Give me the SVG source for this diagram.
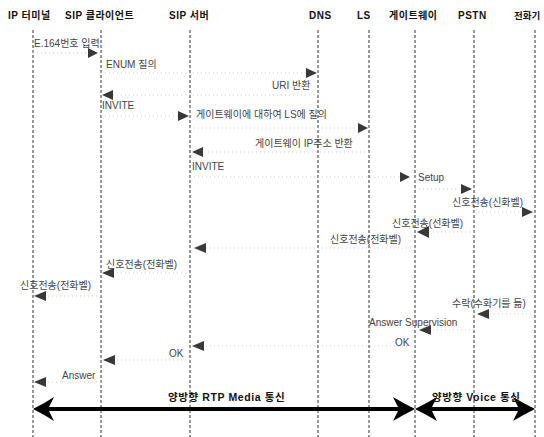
<svg xmlns="http://www.w3.org/2000/svg" width="544" height="437" viewBox="0 0 544 437">
<style>
.hdr{font-family:"Liberation Sans","Noto Sans CJK KR",sans-serif;font-size:10px;font-weight:bold;fill:#111;letter-spacing:0.5px}
.lbl{font-family:"Liberation Sans","Noto Sans CJK KR",sans-serif;font-size:10px;fill:#444}
.big{font-family:"Liberation Sans","Noto Sans CJK KR",sans-serif;font-size:10.5px;font-weight:bold;fill:#111;letter-spacing:0.6px}
.life{stroke:#333;stroke-width:1;stroke-dasharray:3 2;fill:none}
.msg{stroke:#cfcfcf;stroke-width:1;stroke-dasharray:1 3;fill:none}
.ah{fill:#383838}
.bigline{stroke:#000;stroke-width:4;fill:none}
.bighead{fill:#000}
</style>
<rect width="544" height="437" fill="#fff"/>
<g id="n-ipterm"><text class="hdr" x="8" y="19">IP 터미널</text><line class="life" x1="33" y1="30" x2="33" y2="437"/></g>
<g id="n-sipclient"><text class="hdr" x="65" y="19">SIP 클라이언트</text><line class="life" x1="101" y1="30" x2="101" y2="437"/></g>
<g id="n-sipserver"><text class="hdr" x="169" y="19">SIP 서버</text><line class="life" x1="190" y1="30" x2="190" y2="437"/></g>
<g id="n-dns"><text class="hdr" x="309" y="19">DNS</text><line class="life" x1="318" y1="30" x2="318" y2="437"/></g>
<g id="n-ls"><text class="hdr" x="357" y="19">LS</text><line class="life" x1="369" y1="30" x2="369" y2="437"/></g>
<g id="n-gateway"><text class="hdr" x="389" y="19">게이트웨이</text><line class="life" x1="415" y1="30" x2="415" y2="437"/></g>
<g id="n-pstn"><text class="hdr" x="458" y="19">PSTN</text><line class="life" x1="474" y1="30" x2="474" y2="437"/></g>
<g id="n-phone"><text class="hdr" x="514" y="19" style="letter-spacing:0;font-size:9.5px">전화기</text><line class="life" x1="535" y1="30" x2="535" y2="437"/></g>
<g id="connectors">
<line class="msg" x1="33" y1="53" x2="89" y2="53"/><path class="ah" d="M98,53 L88,48 L88,58 Z"/>
<text class="lbl" x="34" y="47">E.164번호 입력</text>
<line class="msg" x1="101" y1="73" x2="307" y2="73"/><path class="ah" d="M317,73 L306,68 L306,78 Z"/>
<text class="lbl" x="106" y="68">ENUM 질의</text>
<line class="msg" x1="318" y1="95" x2="112" y2="95"/><path class="ah" d="M102,95 L113,90 L113,100 Z"/>
<text class="lbl" x="272" y="89">URI 반환</text>
<line class="msg" x1="101" y1="116" x2="179" y2="116"/><path class="ah" d="M189,116 L178,111 L178,121 Z"/>
<text class="lbl" x="102" y="109">INVITE</text>
<line class="msg" x1="190" y1="128" x2="359" y2="128"/><path class="ah" d="M368,128 L358,123 L358,133 Z"/>
<text class="lbl" x="196" y="118">게이트웨이에 대하여 LS에 질의</text>
<line class="msg" x1="369" y1="152" x2="202" y2="152"/><path class="ah" d="M192,152 L203,147 L203,157 Z"/>
<text class="lbl" x="255" y="147">게이트웨이 IP주소 반환</text>
<line class="msg" x1="190" y1="177" x2="401" y2="177"/><path class="ah" d="M410,177 L400,172 L400,182 Z"/>
<text class="lbl" x="192" y="170">INVITE</text>
<line class="msg" x1="415" y1="189" x2="462" y2="189"/><path class="ah" d="M472,189 L461,184 L461,194 Z"/>
<text class="lbl" x="418" y="181">Setup</text>
<line class="msg" x1="474" y1="212" x2="523" y2="212"/><path class="ah" d="M533,212 L522,207 L522,217 Z"/>
<text class="lbl" x="452" y="206">신호전송(신화벨)</text>
<line class="msg" x1="474" y1="232" x2="428" y2="232"/><path class="ah" d="M417,232 L429,226 L429,238 Z"/>
<text class="lbl" x="392" y="227">신호전송(선화벨)</text>
<line class="msg" x1="415" y1="248" x2="205" y2="248"/><path class="ah" d="M194,248 L206,243 L206,253 Z"/>
<text class="lbl" x="330" y="243">신호전송(전화벨)</text>
<line class="msg" x1="190" y1="273" x2="113" y2="273"/><path class="ah" d="M102,273 L114,268 L114,278 Z"/>
<text class="lbl" x="106" y="268">신호전송(전화벨)</text>
<line class="msg" x1="101" y1="296" x2="45" y2="296"/><path class="ah" d="M34,296 L46,291 L46,301 Z"/>
<text class="lbl" x="20" y="289">신호전송(전화벨)</text>
<line class="msg" x1="535" y1="314" x2="488" y2="314"/><path class="ah" d="M477,314 L489,309 L489,319 Z"/>
<text class="lbl" x="452" y="307">수락(수화기를 듦)</text>
<line class="msg" x1="474" y1="330" x2="430" y2="330"/><path class="ah" d="M419,330 L431,325 L431,335 Z"/>
<text class="lbl" x="369" y="326">Answer Supervision</text>
<line class="msg" x1="415" y1="346" x2="203" y2="346"/><path class="ah" d="M192,346 L204,341 L204,351 Z"/>
<text class="lbl" x="395" y="346">OK</text>
<line class="msg" x1="190" y1="360" x2="114" y2="360"/><path class="ah" d="M103,360 L115,355 L115,365 Z"/>
<text class="lbl" x="169" y="357">OK</text>
<line class="msg" x1="101" y1="382" x2="45" y2="382"/><path class="ah" d="M34,382 L46,377 L46,387 Z"/>
<text class="lbl" x="62" y="379">Answer</text>
<line class="bigline" x1="45" y1="409" x2="403" y2="409"/>
<path class="bighead" d="M33,409 Q45,403 54,397 L48,409 L54,421 Q45,415 33,409 Z"/>
<path class="bighead" d="M415,409 Q403,403 393,397 L399,409 L393,421 Q403,415 415,409 Z"/>
<text class="big" x="168" y="401">양방향 RTP Media 통신</text>
<line class="bigline" x1="427" y1="409" x2="523" y2="409"/>
<path class="bighead" d="M415,409 Q427,403 437,397 L431,409 L437,421 Q427,415 415,409 Z"/>
<path class="bighead" d="M535,409 Q523,403 513,397 L519,409 L513,421 Q523,415 535,409 Z"/>
<text class="big" x="432" y="401">양방향 Voice 통신</text>
</g>
</svg>
